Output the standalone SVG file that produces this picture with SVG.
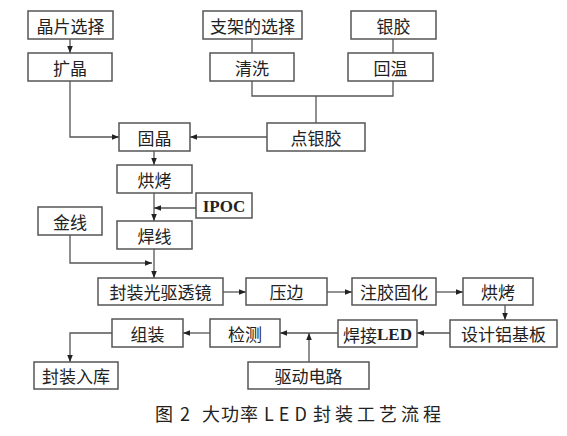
<svg xmlns="http://www.w3.org/2000/svg" width="567" height="436" viewBox="0 0 567 436">
<style>
.box rect{fill:#fff;stroke:#555;stroke-width:1.5}
.box text{font-family:"Noto Sans CJK SC","Noto Sans",sans-serif;font-size:17px;fill:#222;text-anchor:middle;dominant-baseline:central}
.box text.lat{font-family:"Liberation Serif","Noto Sans CJK SC",serif;font-weight:bold}
.conn path{fill:none;stroke:#555;stroke-width:1.3}
.cap{font-family:"Noto Sans CJK SC","Noto Sans",sans-serif;font-size:18px;fill:#222}
</style>
<defs>
<marker id="ah" viewBox="0 0 10 10" refX="10" refY="5" markerWidth="7" markerHeight="7" orient="auto" markerUnits="userSpaceOnUse">
<path d="M0,1 L10,5 L0,9 Z" fill="#222"/>
</marker>
</defs>
<rect width="567" height="436" fill="#fff"/>
<g class="conn">
<path d="M70,39 V53" marker-end="url(#ah)"/>
<path d="M70,81 V137 H119" marker-end="url(#ah)"/>
<path d="M252,39 V53"/>
<path d="M393,39 V53"/>
<path d="M252,81 V96 H393 V81"/>
<path d="M316,96 V123"/>
<path d="M267,137 H190" marker-end="url(#ah)"/>
<path d="M154,151 V165" marker-end="url(#ah)"/>
<path d="M154,193 V221" marker-end="url(#ah)"/>
<path d="M196,208 H154" marker-end="url(#ah)"/>
<path d="M154,249 V278" marker-end="url(#ah)"/>
<path d="M70,235 V263 H152" marker-end="url(#ah)"/>
<path d="M223,292 H246" marker-end="url(#ah)"/>
<path d="M327,292 H352" marker-end="url(#ah)"/>
<path d="M436,292 H463" marker-end="url(#ah)"/>
<path d="M505,305 V320" marker-end="url(#ah)"/>
<path d="M450,333 H417" marker-end="url(#ah)"/>
<path d="M338,333 H280" marker-end="url(#ah)"/>
<path d="M309,362 V333" marker-end="url(#ah)"/>
<path d="M210,333 H183" marker-end="url(#ah)"/>
<path d="M112,333 H70 V362" marker-end="url(#ah)"/>
</g>
<g id="n1" class="box"><rect x="28" y="11" width="85" height="28"/><text x="70.5" y="25">晶片选择</text></g>
<g id="n2" class="box"><rect x="28" y="53" width="84" height="28"/><text x="70" y="67">扩晶</text></g>
<g id="n3" class="box"><rect x="203" y="11" width="99" height="28"/><text x="252.5" y="25">支架的选择</text></g>
<g id="n4" class="box"><rect x="210" y="53" width="84" height="28"/><text x="252" y="67">清洗</text></g>
<g id="n5" class="box"><rect x="351" y="11" width="85" height="28"/><text x="393.5" y="25">银胶</text></g>
<g id="n6" class="box"><rect x="348" y="53" width="85" height="28"/><text x="390.5" y="67">回温</text></g>
<g id="n7" class="box"><rect x="119" y="123" width="71" height="28"/><text x="154.5" y="137">固晶</text></g>
<g id="n8" class="box"><rect x="267" y="123" width="98" height="28"/><text x="316" y="137">点银胶</text></g>
<g id="n9" class="box"><rect x="117" y="165" width="75" height="28"/><text x="154.5" y="179">烘烤</text></g>
<g id="n10" class="box"><rect x="196" y="193" width="56" height="25"/><text class="lat" x="224" y="206">IPOC</text></g>
<g id="n11" class="box"><rect x="117" y="221" width="75" height="28"/><text x="154.5" y="235">焊线</text></g>
<g id="n12" class="box"><rect x="38" y="207" width="64" height="28"/><text x="70" y="221">金线</text></g>
<g id="n13" class="box"><rect x="98" y="278" width="125" height="27"/><text x="160.5" y="291.5">封装光驱透镜</text></g>
<g id="n14" class="box"><rect x="246" y="278" width="81" height="27"/><text x="286.5" y="291.5">压边</text></g>
<g id="n15" class="box"><rect x="352" y="278" width="84" height="27"/><text x="394" y="291.5">注胶固化</text></g>
<g id="n16" class="box"><rect x="463" y="278" width="70" height="27"/><text x="498" y="291.5">烘烤</text></g>
<g id="n17" class="box"><rect x="450" y="320" width="107" height="27"/><text x="503.5" y="333.5">设计铝基板</text></g>
<g id="n18" class="box"><rect x="338" y="320" width="79" height="27"/><text x="377.5" y="333.5"><tspan>焊接</tspan><tspan style="font-family:'Liberation Serif',serif;font-weight:bold">LED</tspan></text></g>
<g id="n19" class="box"><rect x="210" y="319" width="70" height="28"/><text x="245" y="333">检测</text></g>
<g id="n20" class="box"><rect x="248" y="362" width="121" height="27"/><text x="308.5" y="375.5">驱动电路</text></g>
<g id="n21" class="box"><rect x="112" y="319" width="71" height="28"/><text x="147.5" y="333">组装</text></g>
<g id="n22" class="box"><rect x="34" y="362" width="84" height="27"/><text x="76" y="375.5">封装入库</text></g>
<text class="cap" y="421"><tspan x="155">图</tspan><tspan x="180">2</tspan><tspan x="202" letter-spacing="1">大功率</tspan><tspan x="264" letter-spacing="5">LED</tspan><tspan x="313" letter-spacing="4">封装工艺流程</tspan></text>
</svg>
